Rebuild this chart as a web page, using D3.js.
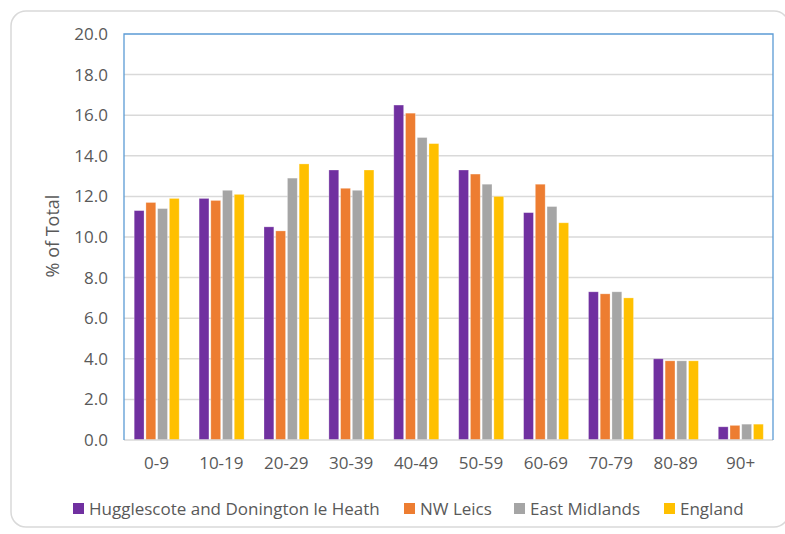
<!DOCTYPE html>
<html>
<head>
<meta charset="utf-8">
<script src="https://cdn.jsdelivr.net/npm/d3@7"></script>
<style>
  html, body { margin: 0; padding: 0; background: #fff; }
  svg { display: block; }
  text { font-family: "Open Sans", "Liberation Sans", sans-serif; fill: #595959; }
</style>
</head>
<body>
<svg id="chart" width="785" height="534"></svg>
<script>
const categories = ["0-9", "10-19", "20-29", "30-39", "40-49", "50-59", "60-69", "70-79", "80-89", "90+"];
const seriesNames = ["Hugglescote and Donington le Heath", "NW Leics", "East Midlands", "England"];
const hugglescote = [11.3, 11.9, 10.5, 13.3, 16.5, 13.3, 11.2, 7.3, 4.0, 0.65];
const nwLeics     = [11.7, 11.8, 10.3, 12.4, 16.1, 13.1, 12.6, 7.2, 3.9, 0.72];
const eastMids    = [11.4, 12.3, 12.9, 12.3, 14.9, 12.6, 11.5, 7.3, 3.9, 0.78];
const england     = [11.9, 12.1, 13.6, 13.3, 14.6, 12.0, 10.7, 7.0, 3.9, 0.78];
const yTicks = [0, 2, 4, 6, 8, 10, 12, 14, 16, 18, 20];
const colors = ["#7030A0", "#ED7D31", "#A5A5A5", "#FFC000"];
const seriesValues = [hugglescote, nwLeics, eastMids, england];

const svg = d3.select("#chart");
const plot = { left: 124, top: 34, right: 773, bottom: 440 };

// outer frame
svg.append("rect")
  .attr("x", 11).attr("y", 11).attr("width", 778).attr("height", 516)
  .attr("rx", 15).attr("ry", 15)
  .attr("fill", "#fff").attr("stroke", "#D9D9D9").attr("stroke-width", 1.5);

const y = d3.scaleLinear().domain([0, 20]).range([plot.bottom, plot.top]);
const x0 = d3.scaleBand().domain(categories).range([plot.left, plot.right]).paddingInner(0).paddingOuter(0);
const bw = x0.bandwidth();
const x1 = d3.scaleBand().domain(seriesNames).range([10.2, bw - 9.7]).paddingInner(0.16).paddingOuter(0);

// gridlines
svg.append("g").selectAll("line").data(yTicks.slice(1, -1)).join("line")
  .attr("x1", plot.left).attr("x2", plot.right)
  .attr("y1", d => y(d)).attr("y2", d => y(d))
  .attr("stroke", "#D9D9D9").attr("stroke-width", 1.5);

// bars
const groups = svg.append("g").selectAll("g").data(categories).join("g")
  .attr("transform", d => `translate(${x0(d)},0)`);
groups.selectAll("rect")
  .data((c, i) => seriesNames.map((s, k) => ({ s, k, v: seriesValues[k][i] })))
  .join("rect")
  .attr("x", d => x1(d.s))
  .attr("width", x1.bandwidth())
  .attr("y", d => y(d.v))
  .attr("height", d => plot.bottom - y(d.v))
  .attr("fill", d => colors[d.k])
  .attr("stroke", "#fff").attr("stroke-opacity", 0.35).attr("stroke-width", 0.8);

// bottom axis line
svg.append("line")
  .attr("x1", plot.left).attr("x2", plot.right)
  .attr("y1", plot.bottom).attr("y2", plot.bottom)
  .attr("stroke", "#D9D9D9").attr("stroke-width", 1.5);

// plot border (blue) left, top, right
svg.append("path")
  .attr("d", `M${plot.left},${plot.bottom} L${plot.left},${plot.top} L${plot.right},${plot.top} L${plot.right},${plot.bottom}`)
  .attr("fill", "none").attr("stroke", "#5B9BD5").attr("stroke-width", 1.3);

// y axis labels
const yAxis = d3.axisLeft(y).tickValues(yTicks).tickFormat(d3.format(".1f")).tickSize(0).tickPadding(16);
const yg = svg.append("g").attr("transform", `translate(${plot.left},0)`).call(yAxis);
yg.select(".domain").remove();
yg.selectAll("text").attr("font-size", 17).style("fill", "#595959")
  .attr("font-family", "'Open Sans', sans-serif");

// x axis labels
const xAxis = d3.axisBottom(x0).tickSize(0).tickPadding(17);
const xg = svg.append("g").attr("transform", `translate(0,${plot.bottom})`).call(xAxis);
xg.select(".domain").remove();
xg.selectAll("text").attr("font-size", 17).style("fill", "#595959")
  .attr("font-family", "'Open Sans', sans-serif");

// y title
svg.append("text")
  .attr("transform", "translate(59,236) rotate(-90)")
  .attr("text-anchor", "middle")
  .attr("font-size", 18)
  .text("% of Total");

// legend
const legendX = [73, 404, 514, 664];
const lg = svg.append("g").selectAll("g").data(seriesNames).join("g")
  .attr("transform", (d, i) => `translate(${legendX[i]},503)`);
lg.append("rect").attr("x", 0).attr("y", 0).attr("width", 11).attr("height", 11)
  .attr("fill", (d, i) => colors[i]);
lg.append("text").attr("x", 16).attr("y", 11.5).attr("font-size", 17).text(d => d);
</script>
</body>
</html>
